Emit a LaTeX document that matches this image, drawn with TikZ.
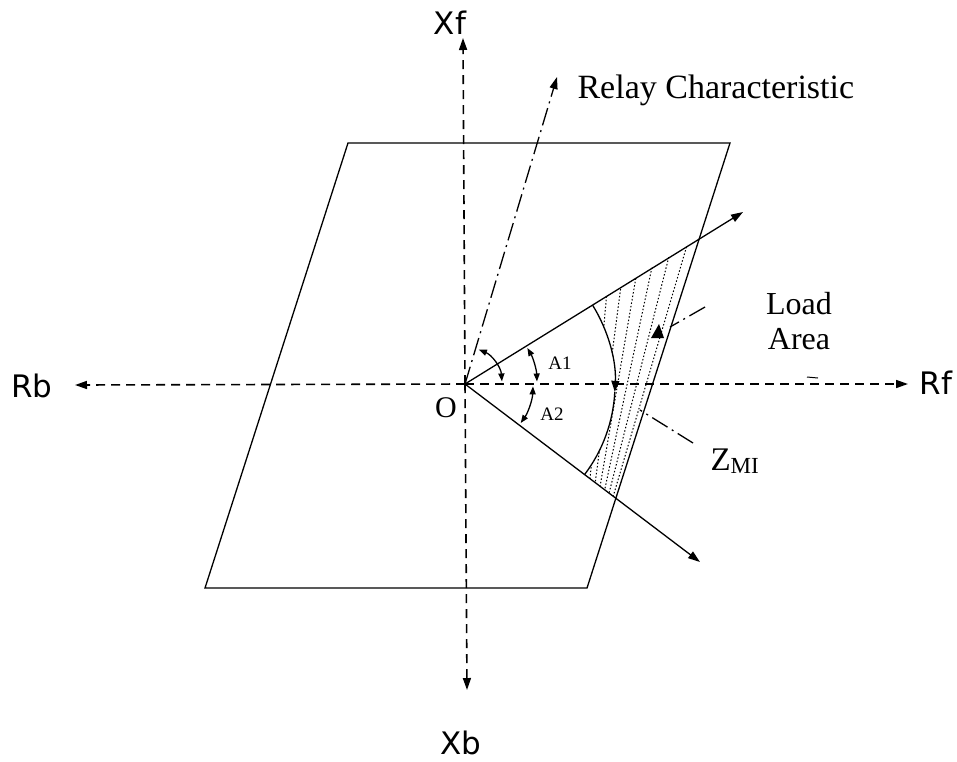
\documentclass[tikz,border=0pt]{standalone}
\usepackage{fontspec}
\setmainfont{Liberation Serif}
\newfontfamily\axfont{DejaVu Sans}
\usetikzlibrary{arrows.meta,calc}
\begin{document}
\begin{tikzpicture}[x=1pt,y=1pt,
  axis/.style={line width=1.6pt,dash pattern=on 9pt off 6pt,-{Triangle[length=12pt,width=8pt]}},
  solid line/.style={line width=1.3pt},
  ray/.style={line width=1.3pt,-{Triangle[length=12pt,width=8pt]}},
  dashdotline/.style={line width=1.3pt,dash pattern=on 18pt off 5pt on 2pt off 5pt},
  anglearc/.style={line width=1.3pt,{Triangle[length=8pt,width=6pt]}-{Triangle[length=8pt,width=6pt]}},
  hatch/.style={line width=1pt,dash pattern=on 1.5pt off 2pt},
  axlabel/.style={font=\axfont\fontsize{31}{31}\selectfont},
  serlabel/.style={font=\fontsize{32}{35}\selectfont},
  smalllabel/.style={font=\fontsize{19}{19}\selectfont}]
\useasboundingbox (0,0) rectangle (957,-761);
\fill[white] (0,0) rectangle (957,-761);

% coordinates
\coordinate (O) at (465,-384);
\coordinate (xftip) at (463,-38);
\coordinate (xbtip) at (467,-690);
\coordinate (rbtip) at (75,-385);
\coordinate (rftip) at (908,-384);
\coordinate (p1) at (348,-143);
\coordinate (p2) at (730,-143);
\coordinate (p3) at (587,-588);
\coordinate (p4) at (205,-588);
\coordinate (uptip) at (743,-212);
\coordinate (lowtip) at (700,-562);
\coordinate (relaytip) at (557,-77);

% labels
\node[axlabel] (xf) at (450,-23) {Xf};
\node[axlabel] (xb) at (461,-743) {Xb};
\node[axlabel] (rb) at (32,-386) {Rb};
\node[axlabel] (rf) at (936,-383) {Rf};
\node[font=\fontsize{34}{34}\selectfont,anchor=base west] (relay) at (574,-98) {Relay Characteristic};
\node[serlabel,align=center] (load) at (799,-321) {Load\\Area};
\node[anchor=base west,font=\fontsize{33}{33}\selectfont] (zmi) at (707,-470) {Z\raisebox{-3pt}{\fontsize{23}{23}\selectfont MI}};
\node[font=\fontsize{30}{30}\selectfont] (olab) at (446,-408) {O};
\node[smalllabel] (a1) at (560,-363) {A1};
\node[smalllabel] (a2) at (552,-414) {A2};

% hatching in load area
\begin{scope}
  \clip (O) ++(31.7:150) -- (700,-237) -- (615.8,-498.3) -- (O) ++(-37.1:150)
        arc[start angle=-37.1,end angle=31.7,radius=150] -- cycle;
  \foreach \f in {0.15,0.3,0.45,0.6,0.75,0.9} {
    \draw[hatch] ({596.7+\f*105.3},-230) -- ({583.1+\f*30.6},-505);
  }
\end{scope}

% axes
\draw[axis] (O) -- (xftip);
\draw[axis] (O) -- (xbtip);
\draw[axis] (O) -- (rbtip);
\draw[axis] (O) -- (rftip);

% parallelogram
\draw[solid line] (p1) -- (p2) -- (p3) -- (p4) -- cycle;

% rays
\draw[ray] (O) -- (uptip);
\draw[ray] (O) -- (lowtip);

% relay characteristic
\draw[dashdotline,-{Triangle[length=12pt,width=8pt]}] (O) -- (relaytip);

% angle arcs
\draw[anglearc] (O) ++(4:37) arc[start angle=4,end angle=68,radius=37];
\draw[anglearc] (O) ++(2:72) arc[start angle=2,end angle=30,radius=72];
\draw[anglearc] (O) ++(-2:68) arc[start angle=-2,end angle=-35,radius=68];

% load arc
\draw[solid line,-{Triangle[length=11pt,width=8pt]}] (O) ++(31.7:150) arc[start angle=31.7,end angle=-3,radius=150];
\draw[solid line] (O) ++(-3:150) arc[start angle=-3,end angle=-37.1,radius=150];

% leaders
\coordinate (loadlead) at (705,-307);
\coordinate (loadend) at (670,-327);
\draw[dashdotline] (loadlead) -- (loadend);
\fill (659,-324) -- (651,-338) -- (664,-338) -- cycle;
\coordinate (zlead) at (693,-443);
\coordinate (zend) at (640,-410);
\draw[dashdotline] (zlead) -- (zend);
\draw[line width=1pt] (807,-377) -- (818,-378);
\end{tikzpicture}
\end{document}
